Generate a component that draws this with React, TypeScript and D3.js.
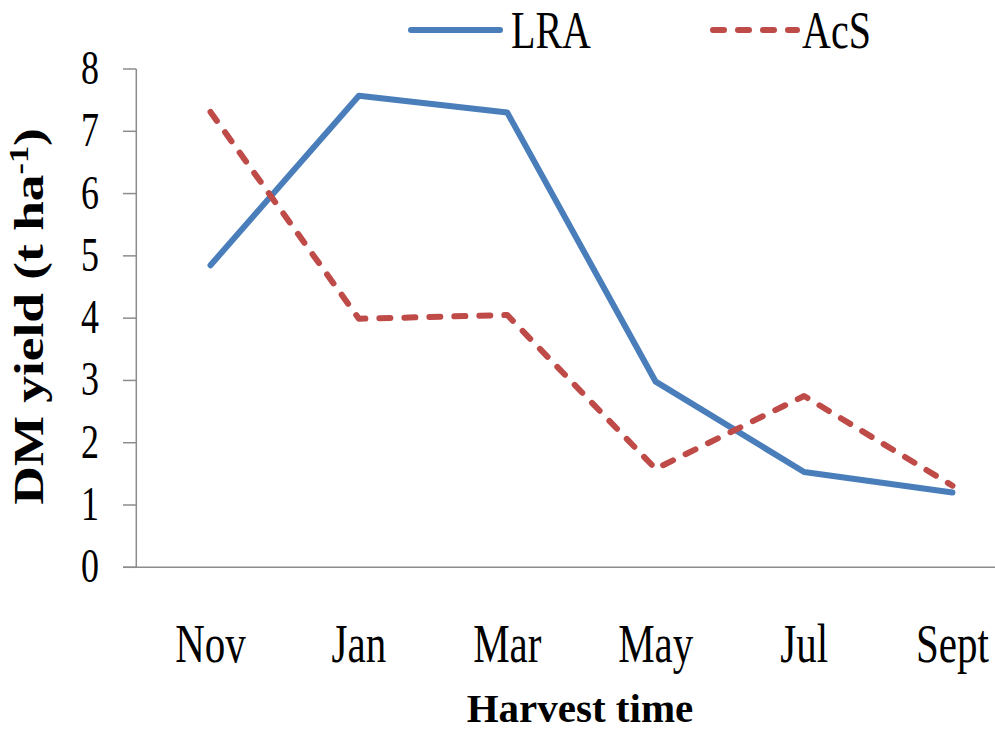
import React, { useRef, useEffect } from "react";
import * as d3 from "d3";

const months = ["Nov", "Jan", "Mar", "May", "Jul", "Sept"];
const lraValues = [4.85, 7.57, 7.3, 2.98, 1.53, 1.2];
const acsValues = [7.31, 3.99, 4.05, 1.58, 2.75, 1.31];
const yTicks = [0, 1, 2, 3, 4, 5, 6, 7, 8];

const blue = "#4A7EBB";
const red = "#BE4B48";
const axisGray = "#8c8c8c";
const serif = "'Liberation Serif', 'Times New Roman', serif";

const width = 995;
const height = 734;

export default function App() {
  const svgRef = useRef<SVGSVGElement>(null);

  useEffect(() => {
    const svg = d3.select(svgRef.current);
    svg.selectAll("*").remove();

    // plot area, the right end runs past the picture edge like the original
    const x = d3.scaleBand<string>().domain(months).range([136.3, 1026.7]).padding(0);
    const y = d3.scaleLinear().domain([0, 8]).range([567.3, 69]);
    const cx = (m: string) => (x(m) as number) + x.bandwidth() / 2;

    // axes
    svg.append("line")
      .attr("x1", 136.3).attr("x2", 136.3)
      .attr("y1", y(8)).attr("y2", y(0))
      .attr("stroke", axisGray).attr("stroke-width", 1.5);
    svg.append("line")
      .attr("x1", 123).attr("x2", 1026.7)
      .attr("y1", y(0)).attr("y2", y(0))
      .attr("stroke", axisGray).attr("stroke-width", 1.5);

    svg.append("g").selectAll("line")
      .data(yTicks)
      .join("line")
      .attr("x1", 123).attr("x2", 136.3)
      .attr("y1", (d) => y(d)).attr("y2", (d) => y(d))
      .attr("stroke", axisGray).attr("stroke-width", 1.5);

    svg.append("g").selectAll("text")
      .data(yTicks)
      .join("text")
      .attr("transform", (d) => `translate(99,${y(d) + 15}) scale(1,1.35)`)
      .attr("text-anchor", "end")
      .style("font-family", serif)
      .style("font-size", "36px")
      .attr("fill", "#000")
      .text((d) => d);

    svg.append("g").selectAll("text")
      .data(months)
      .join("text")
      .attr("transform", (d) => `translate(${cx(d)},661.7) scale(1,1.34)`)
      .attr("text-anchor", "middle")
      .style("font-family", serif)
      .style("font-size", "41px")
      .attr("fill", "#000")
      .text((d) => d);

    // titles
    const yTitle = svg.append("text")
      .attr("transform", "translate(43,316.5) rotate(-90) scale(1.27,1)")
      .attr("text-anchor", "middle")
      .style("font-family", serif)
      .style("font-size", "42px")
      .style("font-weight", "bold")
      .attr("fill", "#000");
    yTitle.append("tspan").text("DM yield (t ha");
    yTitle.append("tspan").attr("dy", -15).style("font-size", "27px").text("-1");
    yTitle.append("tspan").attr("dy", 15).text(")");

    svg.append("text")
      .attr("x", 580).attr("y", 721.7)
      .attr("text-anchor", "middle")
      .style("font-family", serif)
      .style("font-size", "41px")
      .style("font-weight", "bold")
      .attr("fill", "#000")
      .text("Harvest time");

    // series
    const line = d3.line<number>()
      .x((_, i) => cx(months[i]))
      .y((d) => y(d));

    svg.append("path")
      .attr("d", line(lraValues))
      .attr("fill", "none")
      .attr("stroke", blue).attr("stroke-width", 6)
      .attr("stroke-linecap", "round").attr("stroke-linejoin", "round");

    svg.append("path")
      .attr("d", line(acsValues))
      .attr("fill", "none")
      .attr("stroke", red).attr("stroke-width", 6)
      .attr("stroke-dasharray", "11 14")
      .attr("stroke-linecap", "round").attr("stroke-linejoin", "round");

    // legend
    svg.append("line")
      .attr("x1", 411).attr("x2", 500).attr("y1", 30).attr("y2", 30)
      .attr("stroke", blue).attr("stroke-width", 6).attr("stroke-linecap", "round");
    svg.append("text")
      .attr("transform", "translate(511,48) scale(1,1.3)")
      .style("font-family", serif).style("font-size", "40px")
      .attr("fill", "#000")
      .text("LRA");

    svg.append("line")
      .attr("x1", 713).attr("x2", 797).attr("y1", 30).attr("y2", 30)
      .attr("stroke", red).attr("stroke-width", 6)
      .attr("stroke-dasharray", "11 14").attr("stroke-linecap", "round");
    svg.append("text")
      .attr("transform", "translate(802,48) scale(1,1.3)")
      .style("font-family", serif).style("font-size", "40px")
      .attr("fill", "#000")
      .text("AcS");
  }, []);

  return (
    <svg
      ref={svgRef}
      width={width}
      height={height}
      style={{ position: "absolute", left: 0, top: 0, background: "#fff" }}
    />
  );
}
